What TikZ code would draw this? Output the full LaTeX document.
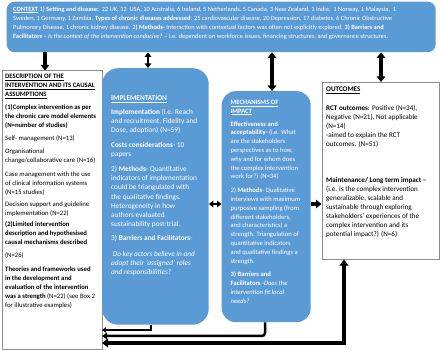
\documentclass[tikz,border=0pt]{standalone}
\usepackage{fontspec}
\setmainfont{Carlito}
\usetikzlibrary{arrows.meta}
\definecolor{boxblue}{HTML}{5B9BD5}
\definecolor{boxgray}{HTML}{8C8C8C}
\begin{document}
\begin{tikzpicture}[x=1pt,y=-1pt,
  bluebox/.style={fill=boxblue, draw=none, anchor=north west, inner sep=0pt},
  whitebox/.style={fill=white, draw=boxgray, line width=0.6pt, anchor=north west, inner sep=0pt},
  txt/.style={anchor=north west, inner sep=0pt, align=left},
  wtxt/.style={txt, text=white},
  fat/.style={line width=3.2pt, -{Triangle[width=8.5pt,length=5.5pt]}},
  dbl/.style={line width=3.2pt, {Triangle[width=8.5pt,length=5.5pt]}-{Triangle[width=8.5pt,length=5.5pt]}},
  dblsmall/.style={line width=2.2pt, {Triangle[width=6.5pt,length=4.5pt]}-{Triangle[width=6.5pt,length=4.5pt]}}
]
\useasboundingbox (0,0) rectangle (440,350);
\fill[white] (0,0) rectangle (440,350);

% boxes
\node[bluebox, rounded corners=8pt, minimum width=429pt, minimum height=50.5pt] (ctx) at (6.5,1.5) {};
\node[whitebox, minimum width=99.5pt, minimum height=279pt] (desc) at (2,70.5) {};
\node[bluebox, rounded corners=16pt, minimum width=106.5pt, minimum height=256.5pt] (impl) at (102,68) {};
\node[bluebox, rounded corners=14pt, minimum width=89pt, minimum height=231pt] (mech) at (221.5,91) {};
\node[whitebox, minimum width=117.5pt, minimum height=177pt] (outc) at (321.5,82) {};

% texts
\node[wtxt, font=\fontsize{6.4}{9}\selectfont] (ctxt) at (13,6.3) {%
\textbf{\underline{CONTEXT}} 1) \textbf{Setting and disease:}\ \ 22 UK, 12\ \ USA, 10 Australia, 6 Ireland, 5 Netherlands, 5 Canada, 3 New Zealand, 1 India,\ \ 1 Norway, 1 Malaysia,\ \ 1\\
Sweden, 1 Germany, 1 Zambia. \textbf{Types of chronic diseases addressed}: 25 cardiovascular disease, 20 Depression, 17 diabetes, 6 Chronic Obstructive\\
Pulmonary Disease, 1 chronic kidney disease. 2\textbf{) Methods-} Interaction with contextual factors was often not explicitly explored. \textbf{3) Barriers and}\\
\textbf{Facilitators --} \textit{Is the context of the intervention conducive?} -- i.e. dependent on workforce issues, financing structures, and governance structures.};

\node[txt, font=\fontsize{6.7}{9}\selectfont] (dtxt) at (5,73.8) {%
\textbf{\underline{DESCRIPTION OF THE}}\\
\textbf{\underline{INTERVENTION AND ITS CAUSAL}}\\
\textbf{\underline{ASSUMPTIONS}}\\[4.2pt]
\textbf{(1)Complex intervention as per}\\
\textbf{the chronic care model elements}\\
\textbf{(N=number of studies)}\\[4.2pt]
Self- management (N=13)\\[4.2pt]
Organisational\\
change/collaborative care (N=16)\\[4.2pt]
Case management with the use\\
of clinical information systems\\
(N=15 studies)\\[3pt]
Decision support and guideline\\
implementation (N=22)\\[2pt]
\textbf{(2)Limited intervention}\\
\textbf{description and hypothesised}\\
\textbf{causal mechanisms described}\\[4pt]
(N=26)\\[5pt]
\textbf{Theories and frameworks used}\\
\textbf{in the development and}\\
\textbf{evaluation of the intervention}\\
\textbf{was a strength} (N=22) (see Box 2\\
for illustrative examples)};

\node[wtxt, font=\fontsize{7.3}{9.2}\selectfont] (itxt) at (111,95.4) {%
\textbf{\underline{IMPLEMENTATION}}\\[5pt]
\textbf{Implementation} (i.e. Reach\\
and recruitment, Fidelity and\\
Dose, adoption) (N=59)\\[5.5pt]
\textbf{Costs considerations}- 10\\
papers\\[5.5pt]
2) \textbf{Methods}- Quantitative\\
indicators of implementation\\
could be triangulated with\\
the qualitative findings.\\
Heterogeneity in how\\
authors evaluated\\
sustainability post-trial.\\[5pt]
3) \textbf{Barriers and Facilitators}-\\[6pt]
\textit{\ Do key actors believe in and}\\
\textit{adopt their `assigned' roles}\\
\textit{and responsibilities?}};

\node[wtxt, font=\fontsize{6.6}{8.8}\selectfont] (mtxt) at (230.5,99.9) {%
\textbf{\underline{MECHANISMS OF}}\\
\textbf{\underline{IMPACT}}\\[4pt]
\textbf{Effectiveness and}\\
\textbf{acceptability-} (i.e. What\\
are the stakeholders\\
perspectives as to how,\\
why and for whom does\\
the complex intervention\\
work for?) (N=34)\\[5pt]
2) \textbf{Methods}- Qualitative\\
interviews with maximum\\
purposive sampling (from\\
different stakeholders,\\
and characteristics) a\\
strength. Triangulation of\\
quantitative indicators\\
and qualitative findings a\\
strength.\\[5pt]
\textbf{3) Barriers and}\\
\textbf{Facilitators} -\textit{Does the}\\
\textit{intervention fit local}\\
\textit{needs?}};

\node[txt, font=\fontsize{7.1}{9}\selectfont] (otxt) at (326,86.7) {%
\textbf{\underline{OUTCOMES}}\\[10pt]
\textbf{RCT outcomes}: Positive (N=34),\\
Negative (N=21), Not applicable\\
(N=14)\\
-aimed to explain the RCT\\
outcomes. (N=51)\\[27pt]
\textbf{Maintenance/ Long term impact --}\\
(i.e. Is the complex intervention\\
generalizable, scalable and\\
sustainable through exploring\\
stakeholders' experiences of the\\
complex intervention and its\\
potential impact?) (N=6)};

% connectors
\coordinate (xa) at (45,0);
\coordinate (xb) at (148,0);
\coordinate (xc) at (272,0);
\coordinate (xd) at (381,0);
\coordinate (ya) at (0,204);
\draw[fat] (ctx.south -| xa) -- (desc.north -| xa);
\draw[dblsmall] (ctx.south -| xb) -- (impl.north -| xb);
\draw[dbl] (ctx.south -| xc) -- (mech.north -| xc);
\draw[dbl] (ctx.south -| xd) -- (outc.north -| xd);
\draw[dblsmall] (impl.east |- ya) -- (mech.west |- ya);
\draw[fat] (mech.east |- ya) -- (outc.west |- ya);

\coordinate (xe) at (151,0);
\coordinate (xf) at (265,0);
\coordinate (xg) at (344,0);
\coordinate (yb1) at (0,330);
\coordinate (yb2) at (0,336);
\coordinate (yb3) at (0,343);
\draw[line width=1.6pt, -{Triangle[width=5.5pt,length=4pt]}] (impl.south -| xe) |- (desc.east |- yb1);
\draw[line width=2.5pt, rounded corners=3pt, -{Triangle[width=7pt,length=5pt]}] (mech.south -| xf) |- (desc.east |- yb2);
\draw[line width=3.5pt, {Triangle[width=9pt,length=6pt]}-{Triangle[width=9pt,length=6pt]}] (outc.south -| xg) |- (desc.east |- yb3);
\end{tikzpicture}
\end{document}
